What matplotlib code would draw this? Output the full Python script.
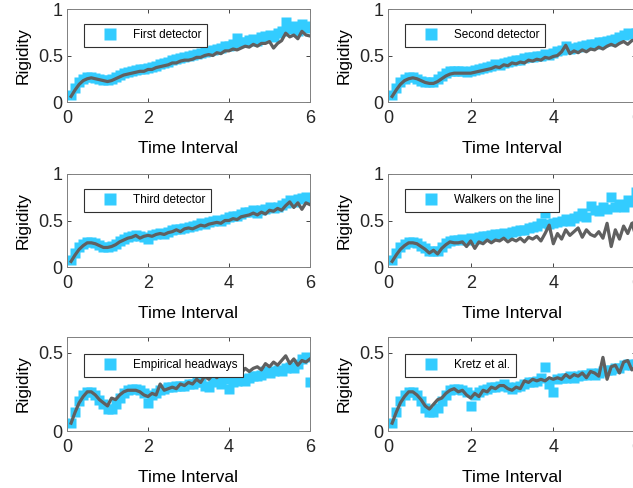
import matplotlib
matplotlib.use("Agg")
import matplotlib.pyplot as plt

plt.rcParams['font.family'] = ['Liberation Sans', 'DejaVu Sans']

# time grid (0.1 .. 6.0)
time = [0.1, 0.2, 0.3, 0.4, 0.5, 0.6, 0.7, 0.8, 0.9, 1.0,
        1.1, 1.2, 1.3, 1.4, 1.5, 1.6, 1.7, 1.8, 1.9, 2.0,
        2.1, 2.2, 2.3, 2.4, 2.5, 2.6, 2.7, 2.8, 2.9, 3.0,
        3.1, 3.2, 3.3, 3.4, 3.5, 3.6, 3.7, 3.8, 3.9, 4.0,
        4.1, 4.2, 4.3, 4.4, 4.5, 4.6, 4.7, 4.8, 4.9, 5.0,
        5.1, 5.2, 5.3, 5.4, 5.5, 5.6, 5.7, 5.8, 5.9, 6.0]

labels = ["First detector", "Second detector", "Third detector",
          "Walkers on the line", "Empirical headways", "Kretz et al."]

# measured (squares)
first_sq = [0.07, 0.15, 0.21, 0.25, 0.27, 0.27, 0.26, 0.25, 0.24, 0.24,
            0.25, 0.27, 0.29, 0.31, 0.32, 0.33, 0.34, 0.35, 0.36, 0.37,
            0.38, 0.39, 0.41, 0.42, 0.43, 0.45, 0.46, 0.47, 0.48, 0.49,
            0.51, 0.52, 0.53, 0.54, 0.55, 0.56, 0.57, 0.58, 0.60, 0.60,
            0.62, 0.69, 0.64, 0.65, 0.67, 0.68, 0.66, 0.70, 0.71, 0.72,
            0.70, 0.74, 0.76, 0.86, 0.79, 0.82, 0.76, 0.84, 0.80, 0.82]
second_sq = [0.07, 0.15, 0.21, 0.25, 0.27, 0.27, 0.25, 0.23, 0.21, 0.21,
             0.22, 0.25, 0.28, 0.31, 0.33, 0.33, 0.33, 0.33, 0.32, 0.33,
             0.34, 0.35, 0.37, 0.38, 0.39, 0.41, 0.40, 0.42, 0.43, 0.44,
             0.45, 0.45, 0.47, 0.48, 0.48, 0.50, 0.50, 0.52, 0.51, 0.53,
             0.55, 0.56, 0.60, 0.57, 0.58, 0.59, 0.60, 0.61, 0.62, 0.62,
             0.64, 0.64, 0.66, 0.67, 0.68, 0.70, 0.72, 0.74, 0.73, 0.74]
third_sq = [0.07, 0.15, 0.21, 0.25, 0.27, 0.27, 0.26, 0.24, 0.22, 0.22,
            0.23, 0.25, 0.28, 0.30, 0.32, 0.33, 0.34, 0.33, 0.32, 0.30,
            0.34, 0.36, 0.37, 0.36, 0.38, 0.40, 0.41, 0.41, 0.42, 0.43,
            0.44, 0.45, 0.47, 0.46, 0.48, 0.50, 0.51, 0.50, 0.52, 0.54,
            0.55, 0.55, 0.57, 0.59, 0.59, 0.61, 0.58, 0.61, 0.62, 0.64,
            0.63, 0.65, 0.67, 0.69, 0.72, 0.70, 0.73, 0.74, 0.75, 0.74]
walkers_sq = [0.07, 0.15, 0.21, 0.25, 0.27, 0.27, 0.26, 0.23, 0.20, 0.17,
              0.17, 0.17, 0.22, 0.26, 0.28, 0.29, 0.29, 0.30, 0.29, 0.31,
              0.30, 0.32, 0.33, 0.33, 0.34, 0.35, 0.36, 0.37, 0.36, 0.38,
              0.39, 0.40, 0.40, 0.42, 0.43, 0.44, 0.47, 0.58, 0.46, 0.47,
              0.48, 0.50, 0.52, 0.50, 0.53, 0.55, 0.58, 0.54, 0.66, 0.61,
              0.60, 0.64, 0.62, 0.75, 0.65, 0.68, 0.64, 0.72, 0.70, 0.81]
empirical_sq = [0.05, 0.12, 0.19, 0.23, 0.25, 0.25, 0.23, 0.20, 0.17, 0.14,
                0.14, 0.17, 0.21, 0.24, 0.26, 0.27, 0.27, 0.26, 0.24, 0.18,
                0.23, 0.24, 0.26, 0.27, 0.28, 0.28, 0.29, 0.29, 0.29, 0.30,
                0.30, 0.31, 0.31, 0.29, 0.28, 0.31, 0.32, 0.30, 0.33, 0.27,
                0.31, 0.32, 0.33, 0.32, 0.34, 0.35, 0.35, 0.36, 0.38, 0.37,
                0.38, 0.39, 0.38, 0.40, 0.41, 0.40, 0.43, 0.46, 0.47, 0.31]
kretz_sq = [0.05, 0.12, 0.19, 0.23, 0.25, 0.25, 0.23, 0.19, 0.15, 0.12,
            0.12, 0.15, 0.19, 0.23, 0.26, 0.27, 0.27, 0.26, 0.25, 0.16,
            0.23, 0.25, 0.26, 0.27, 0.28, 0.28, 0.29, 0.30, 0.28, 0.27,
            0.28, 0.29, 0.30, 0.31, 0.31, 0.32, 0.34, 0.41, 0.30, 0.25,
            0.33, 0.34, 0.34, 0.35, 0.34, 0.35, 0.36, 0.36, 0.37, 0.36,
            0.37, 0.38, 0.39, 0.39, 0.40, 0.40, 0.42, 0.43, 0.42, 0.43]

# model (grey line)
first_ln = [0.06, 0.13, 0.19, 0.23, 0.25, 0.26, 0.25, 0.24, 0.23, 0.22,
            0.23, 0.25, 0.27, 0.29, 0.30, 0.31, 0.32, 0.33, 0.33, 0.35,
            0.35, 0.37, 0.38, 0.39, 0.40, 0.42, 0.42, 0.44, 0.45, 0.45,
            0.46, 0.48, 0.48, 0.50, 0.51, 0.50, 0.53, 0.52, 0.55, 0.55,
            0.57, 0.56, 0.58, 0.60, 0.59, 0.62, 0.60, 0.63, 0.63, 0.65,
            0.58, 0.63, 0.66, 0.74, 0.70, 0.72, 0.68, 0.76, 0.72, 0.71]
second_ln = [0.06, 0.13, 0.19, 0.23, 0.25, 0.26, 0.25, 0.23, 0.21, 0.20,
             0.20, 0.22, 0.25, 0.28, 0.30, 0.31, 0.31, 0.31, 0.31, 0.31,
             0.32, 0.33, 0.34, 0.35, 0.36, 0.38, 0.37, 0.40, 0.39, 0.42,
             0.41, 0.43, 0.42, 0.45, 0.44, 0.46, 0.45, 0.48, 0.47, 0.49,
             0.50, 0.54, 0.61, 0.52, 0.55, 0.53, 0.56, 0.54, 0.57, 0.56,
             0.59, 0.57, 0.60, 0.62, 0.60, 0.63, 0.65, 0.62, 0.66, 0.67]
third_ln = [0.06, 0.13, 0.19, 0.23, 0.26, 0.26, 0.25, 0.23, 0.21, 0.21,
            0.22, 0.24, 0.27, 0.29, 0.31, 0.32, 0.34, 0.31, 0.33, 0.34,
            0.33, 0.35, 0.36, 0.35, 0.37, 0.38, 0.40, 0.38, 0.41, 0.42,
            0.41, 0.43, 0.45, 0.44, 0.46, 0.47, 0.48, 0.47, 0.50, 0.50,
            0.52, 0.51, 0.54, 0.55, 0.56, 0.58, 0.56, 0.59, 0.57, 0.61,
            0.60, 0.63, 0.61, 0.66, 0.70, 0.64, 0.69, 0.62, 0.69, 0.67]
walkers_ln = [0.06, 0.13, 0.19, 0.23, 0.26, 0.26, 0.25, 0.22, 0.19, 0.15,
              0.18, 0.14, 0.20, 0.24, 0.27, 0.26, 0.26, 0.27, 0.22, 0.28,
              0.20, 0.27, 0.25, 0.29, 0.26, 0.29, 0.28, 0.31, 0.27, 0.30,
              0.28, 0.31, 0.27, 0.32, 0.30, 0.33, 0.28, 0.36, 0.45, 0.25,
              0.36, 0.30, 0.40, 0.34, 0.38, 0.42, 0.32, 0.40, 0.35, 0.33,
              0.38, 0.31, 0.47, 0.22, 0.40, 0.30, 0.44, 0.36, 0.47, 0.33]
empirical_ln = [0.05, 0.12, 0.18, 0.22, 0.25, 0.25, 0.23, 0.20, 0.18, 0.16,
                0.21, 0.20, 0.23, 0.25, 0.26, 0.26, 0.26, 0.25, 0.23, 0.22,
                0.24, 0.23, 0.30, 0.26, 0.27, 0.28, 0.27, 0.30, 0.29, 0.31,
                0.30, 0.33, 0.31, 0.35, 0.33, 0.36, 0.34, 0.37, 0.35, 0.37,
                0.36, 0.39, 0.37, 0.40, 0.38, 0.40, 0.41, 0.39, 0.43, 0.41,
                0.44, 0.42, 0.45, 0.48, 0.43, 0.46, 0.42, 0.45, 0.44, 0.46]
kretz_ln = [0.05, 0.12, 0.18, 0.22, 0.25, 0.25, 0.23, 0.20, 0.16, 0.14,
            0.17, 0.20, 0.21, 0.24, 0.26, 0.27, 0.25, 0.26, 0.23, 0.21,
            0.24, 0.22, 0.26, 0.25, 0.28, 0.27, 0.29, 0.29, 0.27, 0.26,
            0.28, 0.27, 0.32, 0.31, 0.33, 0.32, 0.33, 0.32, 0.34, 0.33,
            0.34, 0.33, 0.36, 0.34, 0.36, 0.35, 0.37, 0.34, 0.38, 0.37,
            0.35, 0.47, 0.33, 0.41, 0.42, 0.37, 0.44, 0.45, 0.39, 0.41]

squares = [first_sq, second_sq, third_sq, walkers_sq, empirical_sq, kretz_sq]
lines = [first_ln, second_ln, third_ln, walkers_ln, empirical_ln, kretz_ln]

W, H = 633, 488
fig = plt.figure(figsize=(W / 100, H / 100), dpi=100)

# axes boxes in pixels: left, top, right, bottom
boxes = [(67, 9, 310, 102), (388, 9, 636, 102),
         (67, 174, 310, 267), (388, 174, 636, 267),
         (67, 337, 310, 431), (388, 337, 636, 431)]
leg_top = [0.84, 0.84, 0.84, 0.84, 0.82, 0.82]

for i, (l, t, r, b) in enumerate(boxes):
    ax = fig.add_axes([l / W, 1 - b / H, (r - l) / W, (b - t) / H])
    ax.plot(time, squares[i], 's', color='#33CCFF', ms=7, mec='none',
            label=labels[i])
    ax.plot(time, lines[i], '-', color='#606060', lw=2.3)
    ax.set_xlim(0, 6)
    ax.set_xticks([0, 2, 4, 6])
    if i < 4:
        ax.set_ylim(0, 1)
        ax.set_yticks([0, 0.5, 1])
        ax.set_yticklabels(['0', '0.5', '1'])
    else:
        ax.set_ylim(0, 0.6)
        ax.set_yticks([0, 0.5])
        ax.set_yticklabels(['0', '0.5'])
    ax.tick_params(direction='in', length=3, width=0.6, top=True, right=True,
                   labelsize=13, colors='#262626')
    ax.tick_params(axis='x', pad=6)
    ax.tick_params(axis='y', pad=3)
    for s in ax.spines.values():
        s.set_color('#808080')
        s.set_linewidth(0.7)
    ax.set_xlabel('Time Interval', fontsize=12.5, labelpad=10)
    ax.set_ylabel('Rigidity', fontsize=12.5, labelpad=5)
    leg = ax.legend(loc='upper left', bbox_to_anchor=(0.07, leg_top[i]),
                    borderaxespad=0, fontsize=8.5, fancybox=False,
                    framealpha=1, edgecolor='#303030', handlelength=3.5,
                    handletextpad=0.2, borderpad=0.45, markerscale=1.2)
    leg.get_frame().set_linewidth(0.8)

fig.savefig('out.png', dpi=100)
